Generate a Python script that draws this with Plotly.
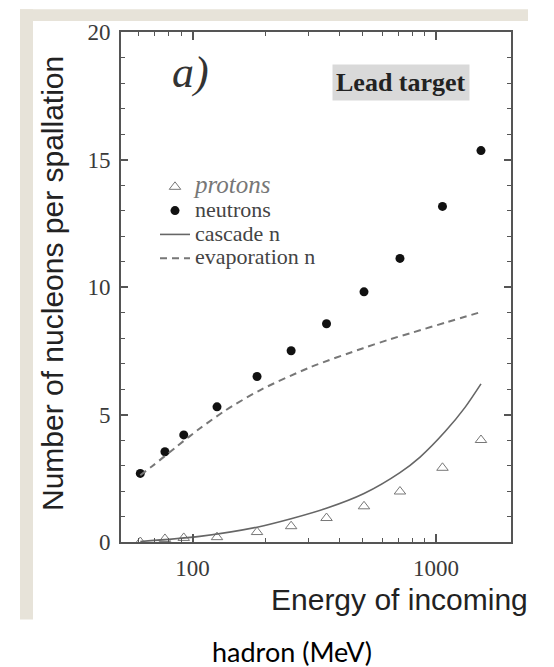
import plotly.graph_objects as go

# ---- data ----
energy = [61, 77, 92, 126, 184, 254, 355, 506, 711, 1063, 1530]
neutrons = [2.69, 3.54, 4.20, 5.30, 6.49, 7.50, 8.56, 9.81, 11.12, 13.16, 15.35]
protons = [0.0, 0.12, 0.16, 0.19, 0.39, 0.62, 0.94, 1.40, 1.98, 2.91, 4.00]

cascade_energy = [61, 107, 184, 256, 357, 506, 711, 860, 1090, 1316, 1530]
cascade_n = [0.02, 0.22, 0.58, 0.92, 1.33, 1.90, 2.72, 3.33, 4.33, 5.28, 6.20]

evap_energy = [61, 68, 87, 107, 136, 189, 304, 502, 647, 805, 1107, 1530]
evap_n = [2.62, 2.96, 3.78, 4.45, 5.15, 5.95, 6.85, 7.60, 7.95, 8.22, 8.62, 9.02]

x_tickvals = [100, 1000]
x_ticktext = ["100", "1000"]
x_minor = [60, 70, 80, 90, 200, 300, 400, 500, 600, 700, 800, 900]
y_tickvals = [0, 5, 10, 15, 20]
y_ticktext = ["0", "5", "10", "15", "20"]

# page body has an 8px margin -> draw 8px smaller and shifted
OFF = 8
W, H = 554 - OFF, 667 - OFF
# plot-area edges in reference pixels
RL, RR, RT, RB = 121, 511, 28, 542


def px(x):
    return (x - RL) / (RR - RL)


def py(y):
    return (RB - y) / (RB - RT)


fig = go.Figure()
fig.add_trace(go.Scatter(
    x=energy, y=protons, mode="markers",
    name="<i><span style='font-size:25px;color:#777'>protons</span></i>",
    marker=dict(symbol="triangle-up-open", size=10, color="#777",
                line=dict(width=1, color="#777")),
))
fig.add_trace(go.Scatter(
    x=energy, y=neutrons, mode="markers",
    name="<span style='font-size:22px'>neutrons</span>",
    marker=dict(symbol="circle", size=9, color="#111"),
))
fig.add_trace(go.Scatter(
    x=cascade_energy, y=cascade_n, mode="lines",
    name="<span style='font-size:22px'>cascade n</span>",
    line=dict(color="#666", width=1.6, shape="spline", smoothing=0.8),
))
fig.add_trace(go.Scatter(
    x=evap_energy, y=evap_n, mode="lines",
    name="<span style='font-size:22px'>evaporation n</span>",
    line=dict(color="#777", width=2, dash="7px,5px", shape="spline", smoothing=0.8),
))

axis_common = dict(
    showline=True, linecolor="#555", linewidth=2, mirror="ticks",
    ticks="inside", tickcolor="#555", showgrid=False, zeroline=False,
    tickfont=dict(family="Liberation Serif", size=23, color="#3a3a3a"),
)

fig.update_xaxes(
    type="log", range=[1.706, 3.308],
    tickmode="array", tickvals=x_tickvals, ticktext=x_ticktext,
    ticklen=8, tickwidth=1.5, ticklabelstandoff=4,
    minor=dict(tickmode="array", tickvals=x_minor, ticks="inside",
               ticklen=4, tickcolor="#555", tickwidth=1),
    **axis_common,
)
fig.update_yaxes(
    range=[0, 20], tickmode="array", tickvals=y_tickvals, ticktext=y_ticktext,
    ticklen=7, tickwidth=1.5, ticklabelstandoff=4,
    minor=dict(dtick=1, ticks="inside", ticklen=4, tickcolor="#555", tickwidth=1),
    **axis_common,
)

beige = "#e7e3d9"
shapes = [
    dict(type="rect", xref="paper", yref="paper", x0=px(20), x1=px(528),
         y0=py(17), y1=py(5), fillcolor=beige, line=dict(width=0)),
    dict(type="rect", xref="paper", yref="paper", x0=px(20), x1=px(33),
         y0=py(620), y1=py(5), fillcolor=beige, line=dict(width=0)),
]


def note(text, x, y, size, family, color, **kw):
    return dict(text=text, x=px(x), y=py(y), xref="paper", yref="paper",
                xanchor="center", yanchor="middle", showarrow=False,
                font=dict(family=family, size=size, color=color), **kw)


annotations = [
    note("<i>a)</i>", 190, 69, 44, "Liberation Serif", "#333"),
    note("<b>Lead target</b>", 401, 79, 26, "Liberation Serif", "#222",
         bgcolor="#d9d9d9", borderpad=3),
    note("Number of nucleons per spallation", 52, 282, 30, "Liberation Sans", "#222",
         textangle=-90),
    note("Energy of incoming", 399, 600, 30, "Liberation Sans", "#222"),
    note("hadron (MeV)", 292, 652, 27, "Lato", "#000"),
]

fig.update_layout(
    width=W, height=H,
    margin=dict(l=RL - OFF, r=W - (RR - OFF), t=RT - OFF, b=H - (RB - OFF), pad=0),
    paper_bgcolor="white", plot_bgcolor="white",
    shapes=shapes, annotations=annotations,
    showlegend=True,
    legend=dict(x=px(155), y=py(167), xanchor="left", yanchor="top",
                bgcolor="rgba(0,0,0,0)", borderwidth=0, traceorder="normal",
                font=dict(family="Liberation Serif", size=16, color="#444"),
                itemwidth=30, tracegroupgap=0),
)

fig.write_html("out.html")
